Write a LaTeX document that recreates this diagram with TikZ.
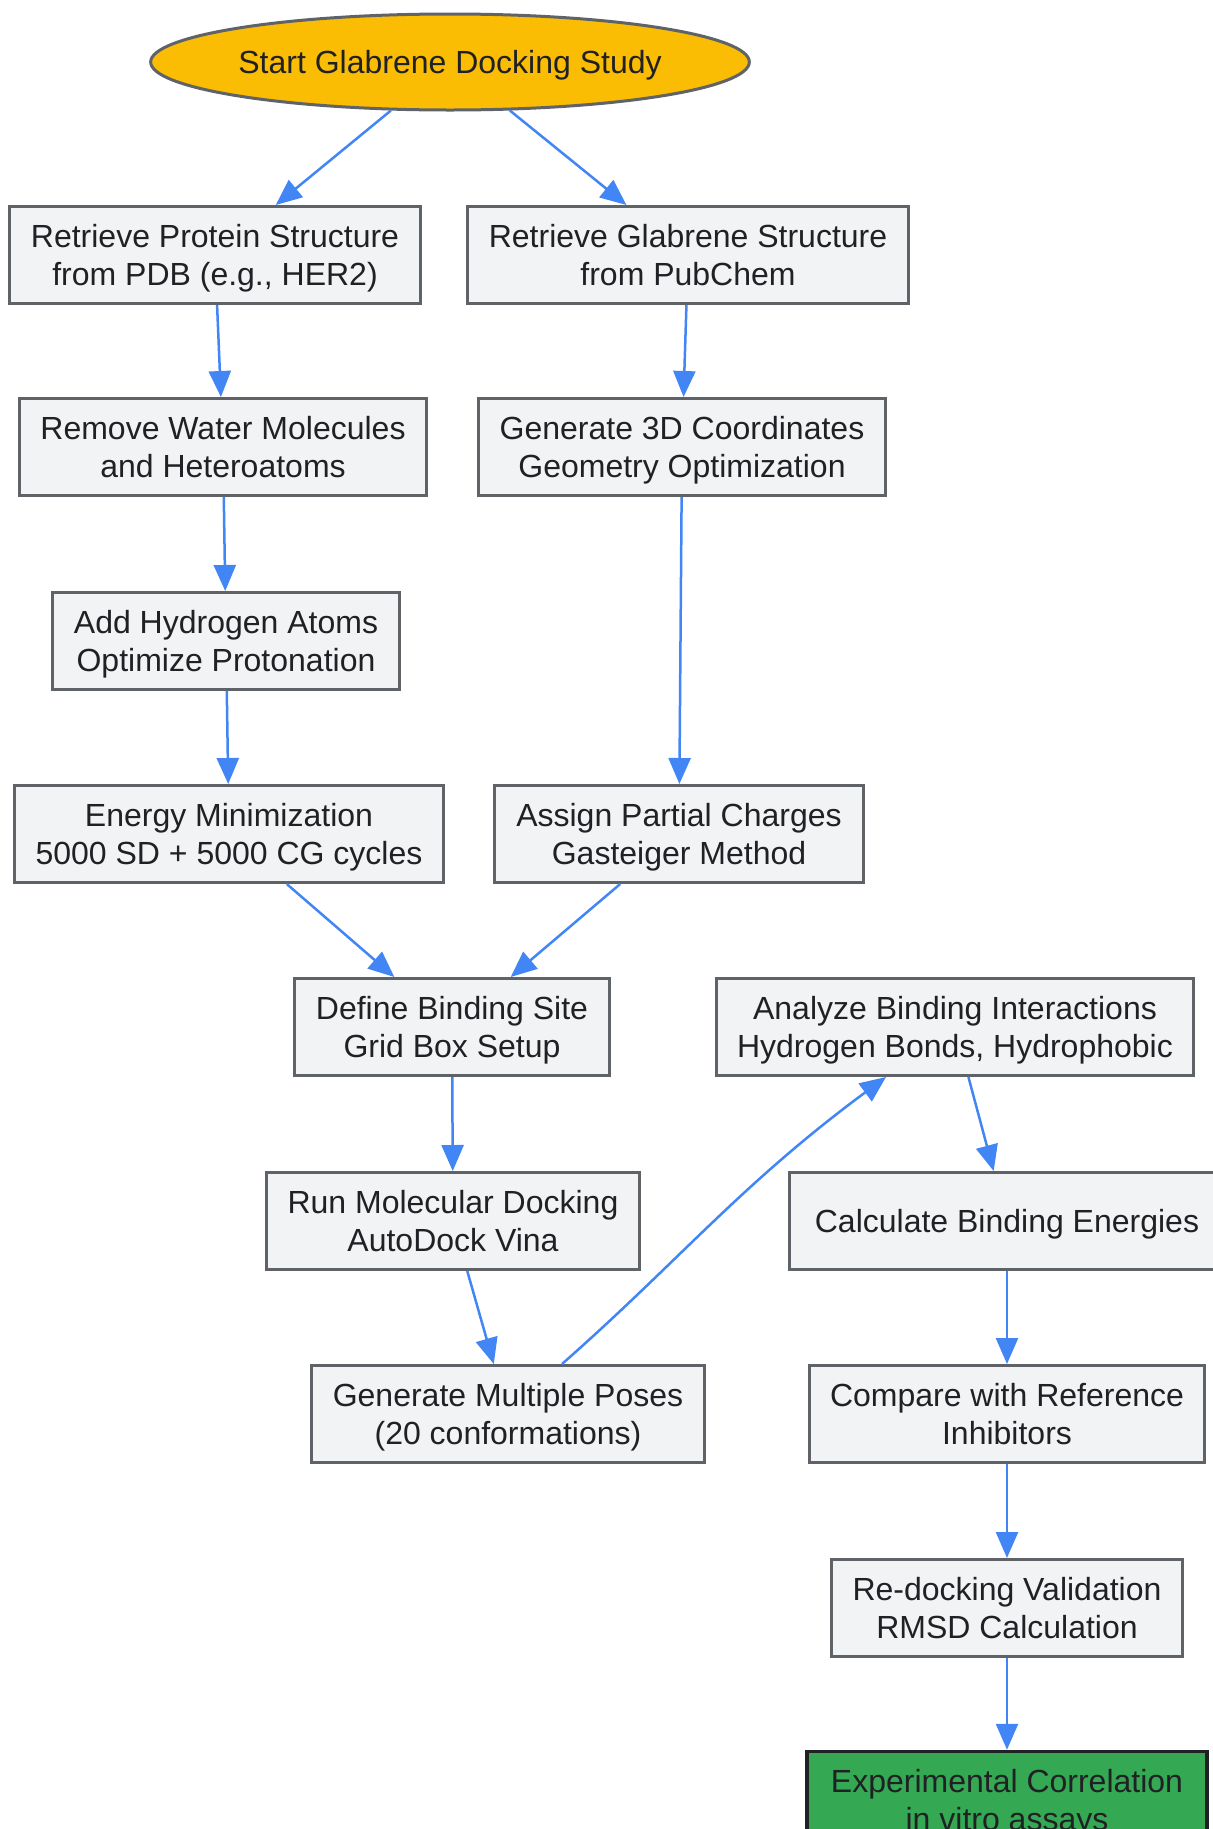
\documentclass[tikz,border=0pt]{standalone}
\usepackage{fontspec}
\setmainfont{Liberation Sans}
\usepackage{xcolor}
\usepackage{tikz}
\usetikzlibrary{arrows.meta,shapes.geometric}

\definecolor{boxfill}{HTML}{F1F3F4}
\definecolor{boxline}{HTML}{5F6368}
\definecolor{startfill}{HTML}{FBBC04}
\definecolor{endfill}{HTML}{34A853}
\definecolor{endline}{HTML}{202124}
\definecolor{txt}{HTML}{202124}
\definecolor{flow}{HTML}{4285F4}

\begin{document}
\begin{tikzpicture}[x=1pt,y=-1pt,
	every node/.style={font=\fontsize{32}{38.5}\selectfont,text=txt},
	stepbox/.style={draw=boxline,line width=3pt,fill=boxfill,align=center,minimum height=97pt,inner xsep=21pt,text height=61pt,text depth=0pt},
	oneline/.style={text height=23pt,text depth=0pt},
	startbox/.style={ellipse,draw=boxline,line width=3pt,fill=startfill,minimum width=592pt,minimum height=96pt,inner sep=0pt,oneline},
	endbox/.style={stepbox,draw=endline,line width=3.5pt,fill=endfill,inner xsep=24pt},
	flowline/.style={draw=flow,line width=2.5pt,-{Triangle[length=26pt,width=22pt]}}]
				\useasboundingbox (0,0) rectangle (1213,1829);
				\clip (0,0) rectangle (1213,1829);
				
				\node[startbox] (n1) at (450,62) {Start Glabrene Docking Study};
				\node[stepbox] (n2) at (215,255) {Retrieve Protein Structure\\from PDB (e.g., HER2)};%protein side
				\node[stepbox] (n3) at (688,255) {Retrieve Glabrene Structure\\from PubChem};%ligand side
				\node[stepbox] (n4) at (223,447) {Remove Water Molecules\\and Heteroatoms};
				\node[stepbox] (n5) at (682,447) {Generate 3D Coordinates\\Geometry Optimization};
				\node[stepbox] (n6) at (226,641) {Add Hydrogen Atoms\\Optimize Protonation};
				\node[stepbox] (n7) at (229,834) {Energy Minimization\\5000 SD + 5000 CG cycles};
				\node[stepbox,inner xsep=22pt] (n8) at (679,834) {Assign Partial Charges\\Gasteiger Method};
				\node[stepbox] (n9) at (452,1027) {Define Binding Site\\Grid Box Setup};%docking
				\node[stepbox] (n10) at (955,1027) {Analyze Binding Interactions\\Hydrogen Bonds, Hydrophobic};
				\node[stepbox] (n11) at (453,1221) {Run Molecular Docking\\AutoDock Vina};
				\node[stepbox,oneline,inner xsep=25pt] (n12) at (1007,1221) {Calculate Binding Energies};
				\node[stepbox] (n13) at (508,1414) {Generate Multiple Poses\\(20 conformations)};
				\node[stepbox] (n14) at (1007,1414) {Compare with Reference\\Inhibitors};
				\node[stepbox] (n15) at (1007,1608) {Re-docking Validation\\RMSD Calculation};
				\node[endbox] (n16) at (1007,1800) {Experimental Correlation\\in vitro assays};
				
				\draw[flowline] (n1) -- (n2);
				\draw[flowline] (n1) -- (n3);
				\draw[flowline] (n2) -- (n4);
				\draw[flowline] (n3) -- (n5);
				\draw[flowline] (n4) -- (n6);
				\draw[flowline] (n5) -- (n8);
				\draw[flowline] (n6) -- (n7);
				\draw[flowline] (n7) -- (n9);
				\draw[flowline] (n8) -- (n9);
				\draw[flowline] (n9) -- (n11);
				\draw[flowline] (n11) -- (n13);
				\draw[flowline] ([xshift=54pt]n13.north) .. controls (680,1260) and (740,1185) .. ([xshift=-69pt]n10.south);
				\draw[flowline] (n10) -- (n12);
				\draw[flowline] (n12) -- (n14);
				\draw[flowline] (n14) -- (n15);
				\draw[flowline] (n15) -- (n16);
			\end{tikzpicture}
\end{document}
